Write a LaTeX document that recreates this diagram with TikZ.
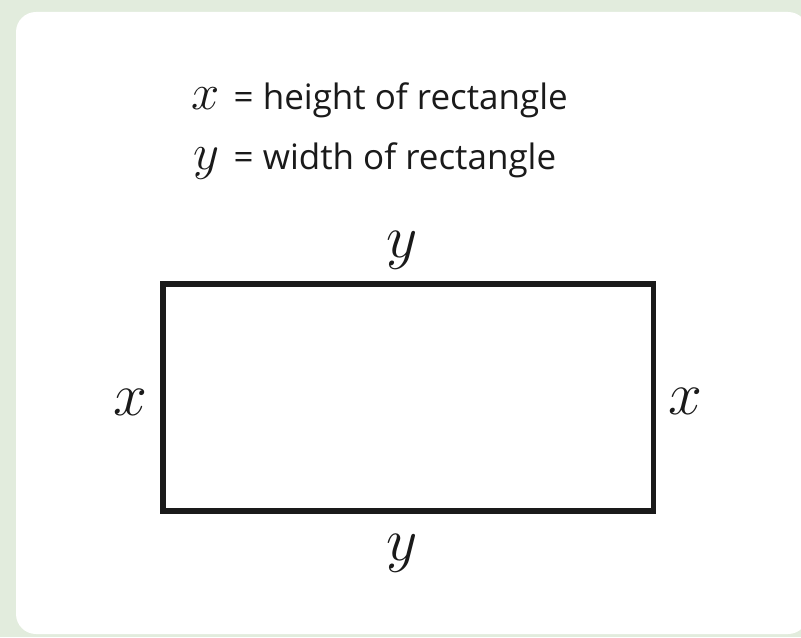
\documentclass[tikz,border=0pt]{standalone}
\usepackage{fontspec}
\setmainfont{Open Sans}
\usepackage{xcolor}
\usepackage{tikz}
\usetikzlibrary{positioning}
\definecolor{pagegreen}{HTML}{e2ecdd}
\definecolor{inkblack}{HTML}{1a1a1a}

\begin{document}
\begin{tikzpicture}[x=0.01cm, y=-0.01cm, text=inkblack]
\useasboundingbox (0,0) rectangle (801,637);
\fill[pagegreen] (0,0) rectangle (801,637);
\clip (0,0) rectangle (801,637);
\fill[white, rounded corners=0.2cm] (16,12) rectangle (808,634);
% definitions
\node[anchor=base, inner sep=0pt, font=\fontsize{14.5}{16}\selectfont] (xdef) at (206,110) {$x$};
\node[anchor=base west, inner sep=0pt, font=\fontsize{9.95}{12}\selectfont] (xtext) at (233,110) {= height of rectangle};
\node[anchor=base, inner sep=0pt, font=\fontsize{14.5}{16}\selectfont] (ydef) at (206,170) {$y$};
\node[anchor=base west, inner sep=0pt, font=\fontsize{9.95}{12}\selectfont] (ytext) at (233,170) {= width of rectangle};
% the rectangle
\node[draw=inkblack, line width=0.055cm, inner sep=0pt, minimum width=4.905cm, minimum height=2.27cm] (rect) at (408.25,397.5) {};
\node[anchor=base, inner sep=0pt, font=\fontsize{16}{18}\selectfont] (ytop) at (402,258) {$y$};
\node[anchor=base, inner sep=0pt, font=\fontsize{16}{18}\selectfont] (ybottom) at (402,560) {$y$};
\node[anchor=base, inner sep=0pt, font=\fontsize{16}{18}\selectfont] (xleft) at (130.5,415) {$x$};
\node[anchor=base, inner sep=0pt, font=\fontsize{16}{18}\selectfont] (xright) at (685,414) {$x$};
\end{tikzpicture}
\end{document}
